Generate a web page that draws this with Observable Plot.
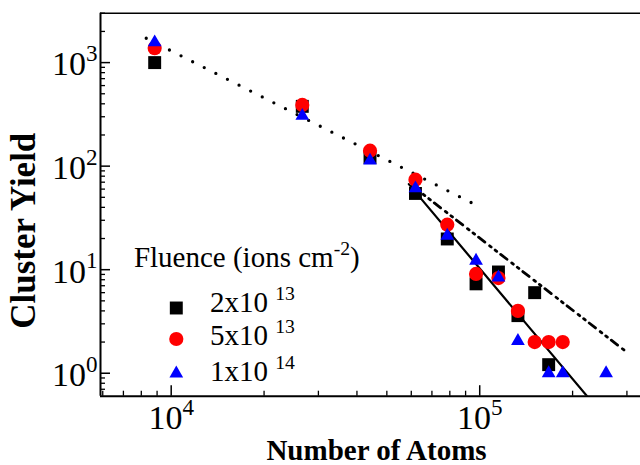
<!DOCTYPE html>
<html><head><meta charset="utf-8">
<script src="https://cdn.jsdelivr.net/npm/d3@7"></script>
<script src="https://cdn.jsdelivr.net/npm/@observablehq/plot@0.6"></script>
<style>
body{margin:0;background:#fff;}
#chart svg text, #chart svg tspan { font-family: "Liberation Serif", "Times New Roman", Times, serif !important; }
</style></head><body><div id="chart"></div>
<script>
// ---- data ----
const atoms2e13 = [8840, 26600, 44100, 61900, 78500, 97300, 115000, 133000, 150700, 167300];
const yield2e13 = [1000, 378, 121, 54.5, 19.8, 7.3, 9.5, 3.6, 6.0, 1.21];
const atoms5e13 = [8840, 26600, 44100, 61900, 78500, 97300, 115000, 133000, 150700, 167300, 185800];
const yield5e13 = [1380, 390, 141, 74, 27.2, 9.1, 8.3, 4.0, 2.0, 2.0, 2.0];
const atoms1e14 = [8840, 26600, 44100, 61900, 78500, 97300, 115000, 133000, 167300, 185800, 256800];
const yield1e14 = [1570, 306, 113, 61, 21.3, 12.2, 8.4, 2.05, 1.0, 1.0, 1.0];

const dottedX = [8300, 95800];   const dottedY = [1718, 43.1];
const dashDotX = [60400, 294700]; const dashDotY = [64.7, 1.66];
const solidX = [58900, 225000];   const solidY = [67.1, 0.58];

const xDomain = [5900, 332000];
const yDomain = [0.6, 3000];
const xMajor = [1e4, 1e5];
const xTickLabels = ["10{4}", "10{5}"];
const xMinor = [6000,7000,8000,9000,20000,30000,40000,50000,60000,70000,80000,90000,200000,300000];
const yMajor = [1, 10, 100, 1000];
const yTickLabels = ["10{0}", "10{1}", "10{2}", "10{3}"];
const yMinor = [0.7,0.8,0.9,2,3,4,5,6,7,8,9,20,30,40,50,60,70,80,90,200,300,400,500,600,700,800,900,2000,3000];

const legendTitle = "Fluence (ions cm{-2})";
const legendLabels = ["2x10 {13}", "5x10 {13}", "1x10 {14}"];
const legendSymbols = ["square", "circle", "triangle"];
const legendColors = ["black", "#ff0000", "#0000ff"];
const xTitle = "Number of Atoms";
const yTitle = "Cluster Yield";

// ---- layout ----
const FONT = '"Liberation Serif", "Times New Roman", Times, serif';
const legendSymDx = 75.8, legendTextDx = 109.5;
const legendSymDy = [294.8, 325.8, 360.3];
const legendTextDy = [289.7, 323, 359];
const symR = {square: 7.3, circle: 7.1, triangle: 5.1};

const rows = (xs, ys) => xs.map((x, i) => ({x, y: ys[i]}));

const legendMarks = legendLabels.flatMap((lab, i) => [
  Plot.dot([0], {frameAnchor: "top-left", dx: legendSymDx, dy: legendSymDy[i], symbol: legendSymbols[i], fill: legendColors[i], r: symR[legendSymbols[i]]}),
  Plot.text([lab], {frameAnchor: "top-left", text: d => d, dx: legendTextDx, dy: legendTextDy[i], textAnchor: "start", lineAnchor: "middle", fontSize: 29, fontFamily: FONT})
]);

const plot = Plot.plot({
  width: 640, height: 465,
  marginLeft: 100, marginRight: 0, marginTop: 12.7, marginBottom: 69.3,
  style: {fontFamily: FONT, background: "white", color: "black", overflow: "hidden"},
  x: {type: "log", domain: xDomain},
  y: {type: "log", domain: yDomain},
  marks: [
    // tick labels
    Plot.axisX(xMajor, {anchor: "bottom", tickSize: 0, tickPadding: 9, fontSize: 34, fontFamily: FONT, tickFormat: d => xTickLabels[xMajor.indexOf(d)], label: null}),
    Plot.axisY(yMajor, {anchor: "left", tickSize: 0, tickPadding: 3, fontSize: 34, fontFamily: FONT, dy: 2, tickFormat: d => yTickLabels[yMajor.indexOf(d)], label: null}),
    // inward ticks
    Plot.ruleX(xMinor, {x: d => d, y1: yDomain[0], y2: yDomain[0], insetTop: -5, strokeWidth: 1.3}),
    Plot.ruleX(xMajor, {x: d => d, y1: yDomain[0], y2: yDomain[0], insetTop: -10.5, strokeWidth: 1.5}),
    Plot.ruleY(yMinor, {y: d => d, x1: xDomain[0], x2: xDomain[0], insetRight: -5, strokeWidth: 1.3}),
    Plot.ruleY(yMajor, {y: d => d, x1: xDomain[0], x2: xDomain[0], insetRight: -10, strokeWidth: 1.5}),
    // frame lines
    Plot.ruleX([xDomain[0]], {strokeWidth: 2}),
    Plot.ruleY([yDomain[0]], {strokeWidth: 2}),
    Plot.ruleY([yDomain[1]], {strokeWidth: 1.5}),
    // fit lines
    Plot.line(rows(dottedX, dottedY), {x: "x", y: "y", stroke: "black", strokeWidth: 3.3, strokeDasharray: "0,13", strokeLinecap: "round", clip: true}),
    Plot.line(rows(dashDotX, dashDotY), {x: "x", y: "y", stroke: "black", strokeWidth: 2.8, strokeDasharray: "8,6,2,5,2,5", clip: true}),
    Plot.line(rows(solidX, solidY), {x: "x", y: "y", stroke: "black", strokeWidth: 2.2, clip: true}),
    // data
    Plot.dot(rows(atoms2e13, yield2e13), {x: "x", y: "y", symbol: "square", fill: "black", r: symR.square}),
    Plot.dot(rows(atoms5e13, yield5e13), {x: "x", y: "y", symbol: "circle", fill: "#ff0000", r: symR.circle}),
    Plot.dot(rows(atoms1e14, yield1e14), {x: "x", y: "y", symbol: "triangle", fill: "#0000ff", r: symR.triangle}),
    // legend
    Plot.text([legendTitle], {frameAnchor: "top-left", text: d => d, dx: 33.4, dy: 244.7, textAnchor: "start", lineAnchor: "middle", fontSize: 29, fontFamily: FONT}),
    ...legendMarks,
    // axis titles
    Plot.text([xTitle], {frameAnchor: "bottom", text: d => d, dx: 6, dy: 54.5, textAnchor: "middle", lineAnchor: "middle", fontSize: 29, fontWeight: "bold", fontFamily: FONT}),
    Plot.text([yTitle], {frameAnchor: "left", text: d => d, dx: -77, dy: 26, rotate: -90, textAnchor: "middle", lineAnchor: "middle", fontSize: 35, fontWeight: "bold", fontFamily: FONT})
  ]
});

// superscripts: "{...}" parts become raised, smaller tspans
const SUP_SCALE = 0.68, SUP_RISE = 0.42;
plot.querySelectorAll("text").forEach(t => {
  const s = t.textContent;
  if (!s.includes("{")) return;
  const host = t.closest("[font-size]");
  const base = parseFloat(host ? host.getAttribute("font-size") : 10);
  const parts = s.split(/[{}]/);
  t.textContent = "";
  let raised = false;
  parts.forEach((p, i) => {
    if (p === "") return;
    const ts = document.createElementNS("http://www.w3.org/2000/svg", "tspan");
    ts.textContent = p;
    if (i % 2 === 1) { ts.setAttribute("font-size", base * SUP_SCALE); ts.setAttribute("dy", -base * SUP_RISE); raised = true; }
    else if (raised) { ts.setAttribute("dy", base * SUP_RISE); raised = false; }
    t.appendChild(ts);
  });
});
document.getElementById("chart").appendChild(plot);
</script></body></html>
